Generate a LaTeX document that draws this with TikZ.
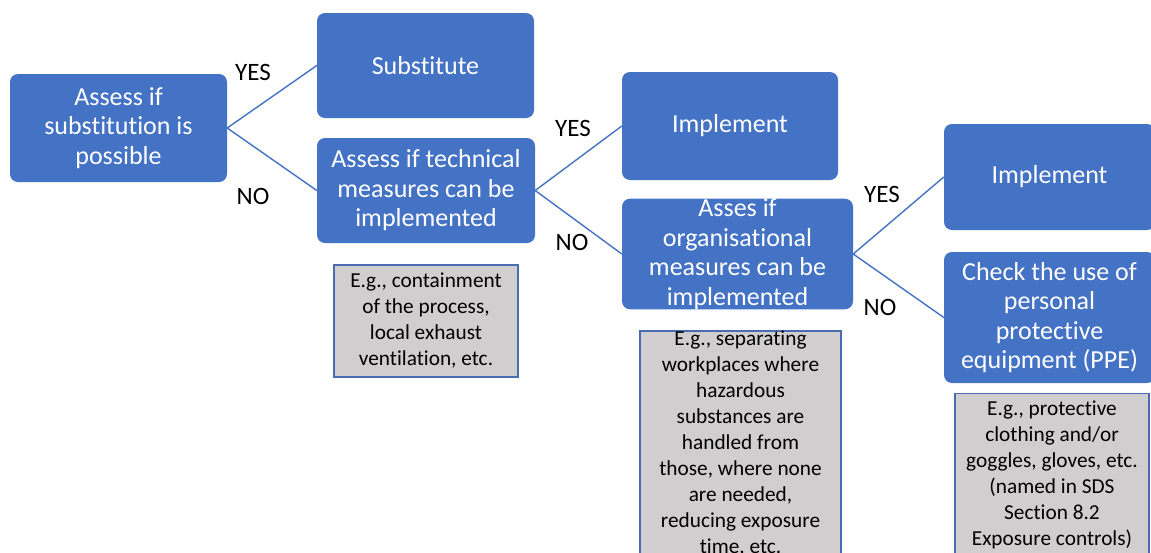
\documentclass[tikz,border=0pt]{standalone}
\usepackage{fontspec}
\setmainfont{Carlito}[RawFeature={-liga;-clig;-calt;-dlig}]
% keep "t" and "i" as separate glyphs
\newcommand{\tI}{t\kern0pt i}
\definecolor{boxblue}{HTML}{4472C4}
\definecolor{notegrey}{HTML}{D0CECE}
\definecolor{noteedge}{HTML}{4A6CB0}
\begin{document}
\begin{tikzpicture}[x=1pt,y=-1pt,
  stepbox/.style={fill=boxblue, draw=none, rounded corners=8pt, text=white,
    align=center, inner xsep=4pt, inner ysep=0pt,
    font=\fontsize{26}{29.5}\selectfont},
  notebox/.style={fill=notegrey, draw=noteedge, line width=1.4pt, text=black,
    align=center, inner xsep=4pt, inner ysep=0pt,
    font=\fontsize{21.3}{26}\selectfont},
  answer/.style={text=black, font=\fontsize{25}{30}\selectfont, inner sep=0pt},
  link/.style={draw=boxblue, line width=1.4pt}]

\clip (0,0) rectangle (1151,552);
\fill[white] (0,0) rectangle (1151,552);

% decision and action boxes
\node[stepbox, minimum width=217pt, minimum height=108pt] (subq) at (118.5,128)
  {Assess if\\subs\tI{}tu\tI{}on is\\possible};
\node[stepbox, minimum width=217pt, minimum height=105pt] (subst) at (425.5,65.5)
  {Subs\tI{}tute};
\node[stepbox, minimum width=218pt, minimum height=105pt] (techq) at (426,190.5)
  {Assess if technical\\measures can be\\implemented};
\node[stepbox, minimum width=216pt, minimum height=108pt] (impA) at (730,126)
  {Implement};
\node[stepbox, minimum width=231pt, minimum height=110pt] (orgq) at (737.5,254)
  {Asses if\\organisa\tI{}onal\\measures can be\\implemented};
\node[stepbox, minimum width=211pt, minimum height=106pt] (impB) at (1049.5,177)
  {Implement};
\node[stepbox, minimum width=211pt, minimum height=131pt] (ppe) at (1049.5,317.5)
  {Check the use of\\personal\\protec\tI{}ve\\equipment (PPE)};

% example notes
\node[notebox, minimum width=184pt, minimum height=112pt] (noteT) at (426,321)
  {E.g., containment\\of the process,\\local exhaust\\ven\tI{}la\tI{}on, etc.};
\node[notebox, minimum width=201pt, minimum height=225pt] (noteO) at (740.5,443.5)
  {E.g., separa\tI{}ng\\workplaces where\\hazardous\\substances are\\handled from\\those, where none\\are needed,\\reducing exposure\\\tI{}me, etc.};
\node[notebox, minimum width=194pt, minimum height=163pt] (noteP) at (1052,475)
  {E.g., protec\tI{}ve\\clothing and/or\\goggles, gloves, etc.\\(named in SDS\\Sec\tI{}on 8.2\\Exposure controls)};

% branches
\draw[link] (subq.east) -- (subst.west);
\draw[link] (subq.east) -- (techq.west);
\draw[link] (techq.east) -- (impA.west);
\draw[link] (techq.east) -- (orgq.west);
\draw[link] (orgq.east) -- (impB.west);
\draw[link] (orgq.east) -- (ppe.west);

% answer labels
\node[answer] (y1) at (253,72) {YES};
\node[answer] (n1) at (253,196) {NO};
\node[answer] (y2) at (573,128) {YES};
\node[answer] (n2) at (572,242) {NO};
\node[answer] (y3) at (882,194) {YES};
\node[answer] (n3) at (880,307) {NO};
\end{tikzpicture}
\end{document}
